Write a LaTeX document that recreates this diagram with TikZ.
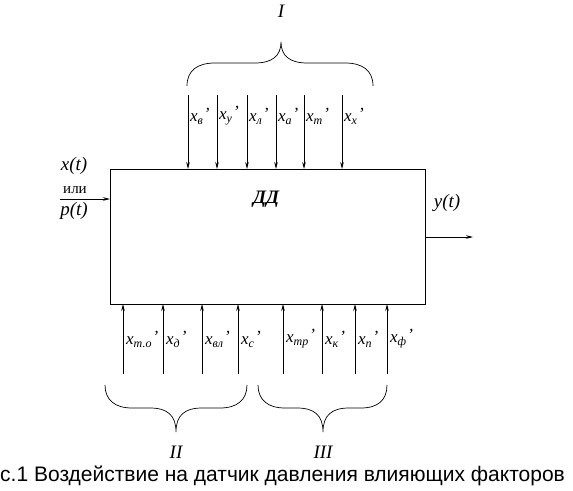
\documentclass[tikz,border=0pt]{standalone}
\usepackage{fontspec}
\setmainfont{Liberation Serif}
\newfontfamily\capfont{Liberation Sans}
\usetikzlibrary{arrows.meta}
\tikzset{
  arr/.style={-{Stealth[length=7pt,width=3.5pt]}, line width=0.7pt},
  lbl/.style={anchor=west, inner sep=0pt, font=\fontsize{17}{19}\selectfont\itshape},
  brace/.style={line width=0.7pt},
  grp/.style={font=\fontsize{19}{21}\selectfont\itshape, inner sep=0pt},
  sig/.style={font=\fontsize{19}{21}\selectfont\itshape, inner sep=0pt}
}
\newcommand{\xs}[1]{x\raisebox{-3pt}{\fontsize{12}{13}\selectfont #1}\kern1pt\raisebox{2pt}{’}}
\begin{document}
\begin{tikzpicture}[x=1pt,y=-1pt]
\useasboundingbox (0,0) rectangle (573,490);
% main block
\node[draw, line width=0.8pt, minimum width=315pt, minimum height=135pt, inner sep=0pt, anchor=north west] (dd) at (110,169) {};
\node[font=\fontsize{19}{21}\selectfont\bfseries\itshape] (ddl) at (266,199) {ДД};
% top arrows
\foreach \i/\x/\s in {1/188/в, 2/217/у, 3/247/л, 4/276/а, 5/304/т, 6/342/х}{
  \coordinate (ts\i) at (\x,95);
  \coordinate (te\i) at (\x,169);
  \draw[arr] (ts\i) -- (te\i);
  \node[lbl] (tl\i) at (\x+2,116) {\xs{\s}};
}
% bottom arrows
\foreach \i/\x/\s in {1/123/т.о, 2/163/д, 3/202/вл, 4/238/с, 5/283/тр, 6/322/к, 7/355/п, 8/387/ф}{
  \coordinate (bs\i) at (\x,374);
  \coordinate (be\i) at (\x,304);
  \draw[arr] (bs\i) -- (be\i);
  \node[lbl] (bl\i) at (\x+3,339) {\xs{\s}};
}
% input
\coordinate (in) at (60,199);
\draw[arr] (in) -- (dd.west |- in);
\node[sig] (xt) at (74,166) {x(t)};
\node[font=\fontsize{15}{17}\selectfont, inner sep=0pt] (ili) at (75,190) {или};
\node[sig] (pt) at (74,211) {p(t)};
% output
\coordinate (out) at (473,237);
\draw[arr] (dd.east |- out) -- (out);
\node[sig] (yt) at (447,203) {y(t)};
% brace I
\draw[brace] (187,86) .. controls (187,70) and (198,63) .. (215,63) -- (255,63)
             .. controls (272,63) and (281,56) .. (281,42)
             .. controls (281,56) and (290,63) .. (307,63) -- (345,63)
             .. controls (362,63) and (373,70) .. (373,86);
\node[grp] (g1) at (281,11) {I};
% brace II
\draw[brace] (105,385) .. controls (105,400) and (115,408) .. (132,408) -- (150,408)
             .. controls (167,408) and (176,415) .. (176,432)
             .. controls (176,415) and (185,408) .. (202,408) -- (220,408)
             .. controls (237,408) and (247,400) .. (247,385);
\node[grp] (g2) at (176,452) {II};
% brace III
\draw[brace] (258,385) .. controls (258,400) and (268,408) .. (285,408) -- (297,408)
             .. controls (314,408) and (323,415) .. (323,432)
             .. controls (323,415) and (332,408) .. (349,408) -- (361,408)
             .. controls (378,408) and (387,400) .. (387,385);
\node[grp] (g3) at (323,452) {III};
% caption
\node[font=\capfont\fontsize{21}{23}\selectfont, anchor=west, inner sep=0pt] (cap) at (0,476) {с.1 Воздействие на датчик давления влияющих факторов};
\end{tikzpicture}
\end{document}
